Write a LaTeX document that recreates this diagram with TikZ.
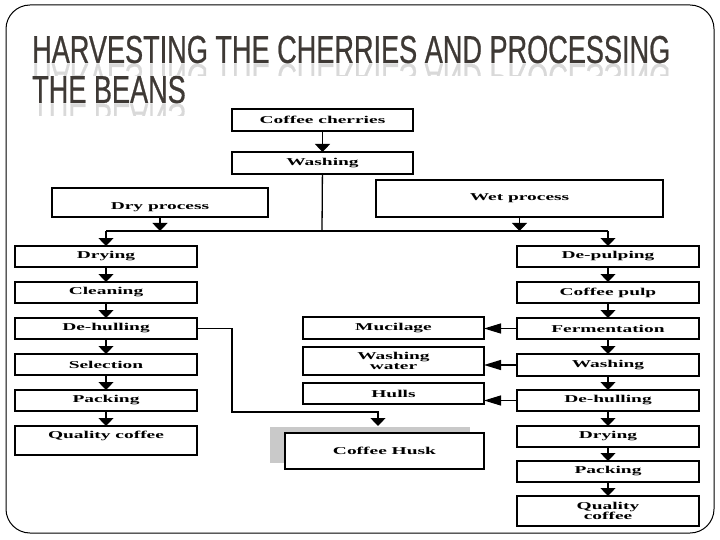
\documentclass[tikz,border=0pt]{standalone}
\usepackage{fontspec}
\setmainfont{Liberation Serif}
\newfontfamily\titlefont[FakeStretch=0.695,FakeBold=0.6]{Liberation Sans}
\newfontfamily\boxfont[FakeStretch=1.85]{Liberation Serif}
\usepackage{graphicx}
\usepackage{xcolor}
\usepackage{tikz}
\usetikzlibrary{arrows.meta,positioning}
\definecolor{titlegray}{HTML}{3E3935}
\definecolor{shadowgray}{HTML}{C9C9C9}

\begin{document}
\begin{tikzpicture}[x=1pt,y=-1pt]
            \tikzstyle{block} = [draw, rectangle, line width=1.2pt, minimum width=182pt, minimum height=21pt, inner sep=0pt, outer sep=0pt, align=center, font=\boxfont\bfseries\fontsize{10.5}{9.5}\selectfont]
            \tikzstyle{heading} = [anchor=base west, inner sep=0pt, text=titlegray, font=\titlefont\fontsize{39}{39}\selectfont]
            \tikzstyle{mirror} = [heading, text=black!15]
            \tikzstyle{varr} = [line width=1.3pt, -{Triangle[width=15pt,length=8pt]}]
            \tikzstyle{harr} = [line width=1.3pt, -{Triangle[width=10pt,length=17pt]}]

            \useasboundingbox (0,0) rectangle (720,540);
            \draw[line width=1pt, rounded corners=24pt] (6,5) rectangle (714,533);

            % title with its reflection
            \node [heading] (title1) at (32,63) {HARVESTING THE CHERRIES AND PROCESSING};
            \node [heading] (title2) at (32,103) {THE BEANS};
            \begin{scope}
            \clip (20,64) rectangle (700,76) (20,104) rectangle (700,116);
            \node [mirror] (mirror1) at (32,64) {\scalebox{1}[-1]{HARVESTING THE CHERRIES AND PROCESSING}};
            \node [mirror] (mirror2) at (32,104) {\scalebox{1}[-1]{THE BEANS}};
            \end{scope}

            \node [block, minimum width=181pt, minimum height=22pt] (cherries) at (322.5,120) {Coffee cherries};
            \node [block, minimum width=181pt, minimum height=22pt, below = 21pt of cherries] (wash) {Washing};
            \node [block, minimum width=216pt, minimum height=29pt, text height=14pt, text depth=0pt] (dry) at (160,202.5) {Dry process};
            \node [block, minimum width=287pt, minimum height=37pt] (wet) at (519.5,198.5) {Wet process};

            % dry process
            \node [block] (drying) at (106,256.5) {Drying};
            \node [block, below = 15pt of drying] (cleaning) {Cleaning};
            \node [block, below = 15pt of cleaning] (dehull) {De-hulling};
            \node [block, below = 15pt of dehull] (selection) {Selection};
            \node [block, below = 15pt of selection] (packing) {Packing};
            \node [block, below = 15pt of packing, minimum height=29pt, text height=11pt, text depth=16pt] (quality) {Quality coffee};

            % wet process
            \node [block] (depulp) at (608,256.5) {De-pulping};
            \node [block, below = 15pt of depulp] (pulp) {Coffee pulp};
            \node [block, below = 15pt of pulp] (ferment) {Fermentation};
            \node [block, below = 15pt of ferment, minimum height=22pt] (wash2) {Washing};
            \node [block, below = 14pt of wash2] (dehull2) {De-hulling};
            \node [block, below = 15pt of dehull2] (drying2) {Drying};
            \node [block, below = 14pt of drying2] (packing2) {Packing};
            \node [block, below = 14pt of packing2, minimum height=30pt] (quality2) {Quality\\coffee};

            % by-products
            \node [block, minimum width=181pt, minimum height=22pt] (mucilage) at (393.5,328) {Mucilage};
            \node [block, minimum width=181pt, minimum height=28pt, below = 8pt of mucilage] (water) {Washing\\water};
            \node [block, minimum width=181pt, below = 8pt of water] (hulls) {Hulls};
            \fill [shadowgray] (270,427) rectangle (470,463);
            \node [block, minimum width=199pt, minimum height=36pt, fill=white] (husk) at (384.5,451) {Coffee Husk};

            \coordinate (bus) at (322,231);
            \coordinate (bend) at (232,412);
            \coordinate (huskin) at (378,426);

            \draw [varr] (cherries) -- (wash);
            \draw [line width=1.3pt] (wash) -- (bus);
            \draw [line width=1.3pt] (drying.north |- bus) -- (depulp.north |- bus);
            \draw [varr] (dry) -- (dry |- bus);
            \draw [varr] (wet) -- (wet |- bus);
            \draw [varr] (drying.north |- bus) -- (drying);
            \draw [varr] (depulp.north |- bus) -- (depulp);
            \draw [varr] (drying) -- (cleaning);
            \draw [varr] (cleaning) -- (dehull);
            \draw [varr] (dehull) -- (selection);
            \draw [varr] (selection) -- (packing);
            \draw [varr] (packing) -- (quality);
            \draw [varr] (depulp) -- (pulp);
            \draw [varr] (pulp) -- (ferment);
            \draw [varr] (ferment) -- (wash2);
            \draw [varr] (wash2) -- (dehull2);
            \draw [varr] (dehull2) -- (drying2);
            \draw [varr] (drying2) -- (packing2);
            \draw [varr] (packing2) -- (quality2);
            \draw [harr] (ferment.west) -- (ferment.west -| mucilage.east);
            \draw [harr] (wash2.west) -- (wash2.west -| water.east);
            \draw [harr] (dehull2.west) -- (dehull2.west -| hulls.east);
            \draw [varr] (dehull.east) -| (bend) -| (huskin);
\end{tikzpicture}
\end{document}
